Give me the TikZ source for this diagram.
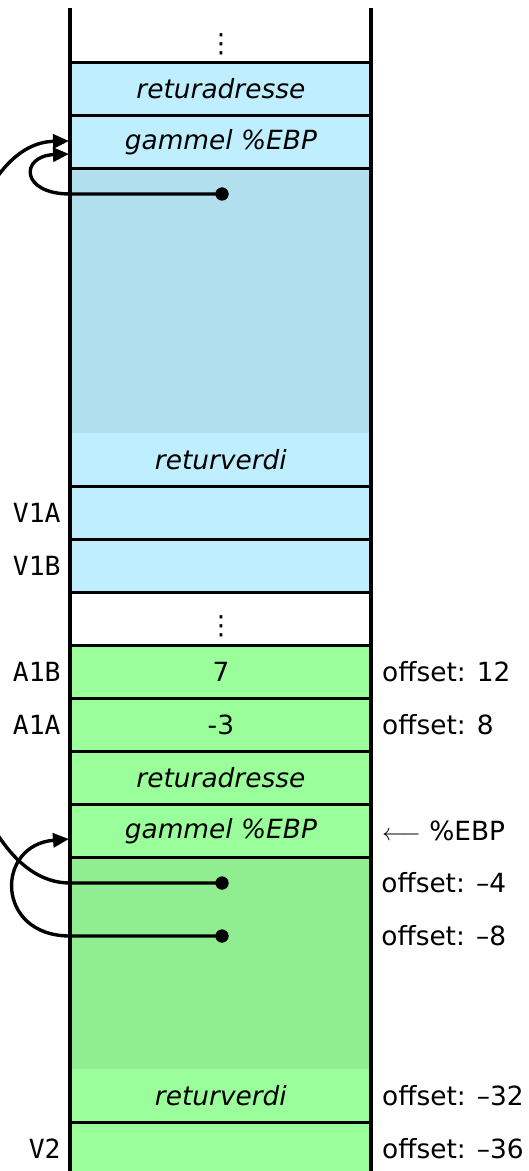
\documentclass[tikz,border=0pt]{standalone}
\usepackage{fontspec}
\setmainfont{DejaVu Sans}
\newfontfamily\labelmono{DejaVu Sans Mono}
\usetikzlibrary{arrows.meta,calc}
\definecolor{cellblue}{RGB}{191,239,255}
\definecolor{areablue}{RGB}{178,223,238}
\definecolor{cellgreen}{RGB}{154,255,154}
\definecolor{areagreen}{RGB}{144,238,144}

\begin{document}
\begin{tikzpicture}[x=0.5pt,y=-0.5pt,
  every node/.style={font=\fontsize{13.2pt}{16pt}\selectfont},
  cell/.style={anchor=north west, inner sep=0pt, minimum width=150.5pt,
               minimum height=26.5pt},
  bluecell/.style={cell, fill=cellblue},
  greencell/.style={cell, fill=cellgreen},
  caption/.style={font=\fontsize{13.2pt}{16pt}\selectfont\itshape},
  leftlabel/.style={anchor=east, inner sep=0pt,
                    font=\fontsize{13.2pt}{16pt}\selectfont\labelmono},
  rightlabel/.style={anchor=west, inner sep=0pt},
  ellipsis/.style={inner sep=0pt},
  sep/.style={line width=1.5pt},
  wall/.style={line width=2pt},
  conn/.style={line width=1.7pt},
  tip/.style={conn, -{Triangle[length=8pt,width=7pt]}},
  ptr/.style={circle, fill=black, inner sep=0pt, minimum size=6.5pt},
]
\useasboundingbox (0,0) rectangle (529,1171);
\clip (0,0) rectangle (529,1171);

% ---- calling frame (blue) ----
\node[cell] (topgap) at (70,8) [minimum height=27pt] {};
\node[ellipsis] at (221,44) {⋮};
\node[bluecell] (retA) at (70,62) {};
\node[caption] at (retA.center) {returadresse};
\node[bluecell] (gamA) at (70,115) {};
\node[caption] at (gamA.center) {gammel \%EBP};
\node[cell, fill=areablue, minimum height=132.5pt] (areaA) at (70,168) {};
\node[bluecell] (rvA) at (70,433) {};
\node[caption] at (rvA.center) {returverdi};
\node[bluecell] (v1a) at (70,486) {};
\node[bluecell] (v1b) at (70,539) {};

% ---- gap ----
\node[cell] (midgap) at (70,592) {};
\node[ellipsis] at (221,626.5) {⋮};

% ---- called frame (green) ----
\node[greencell] (a1b) at (70,645) {7};
\node[greencell] (a1a) at (70,698) {-3};
\node[greencell] (retB) at (70,751) {};
\node[caption] at (retB.center) {returadresse};
\node[greencell] (gamB) at (70,804) {};
\node[caption] at (gamB.center) {gammel \%EBP};
\node[cell, fill=areagreen, minimum height=106pt] (areaB) at (70,857) {};
\node[greencell] (rvB) at (70,1069) {};
\node[caption] at (rvB.center) {returverdi};
\node[greencell] (v2) at (70,1122) {};

% ---- cell separators ----
\foreach \c in {topgap,retA,gamA,rvA,v1a,v1b,midgap,a1b,a1a,retB,gamB,rvB}
  \draw[sep] (\c.south west) -- (\c.south east);

% ---- stack walls ----
\draw[wall] (70,8) -- (70,1180);
\draw[wall] (371,8) -- (371,1180);

% ---- left labels ----
\node[leftlabel] at ($(v1a.west)+(-9,0)$) {V1A};
\node[leftlabel] at ($(v1b.west)+(-9,0)$) {V1B};
\node[leftlabel] at ($(a1b.west)+(-9,0)$) {A1B};
\node[leftlabel] at ($(a1a.west)+(-9,0)$) {A1A};
\node[leftlabel] at ($(v2.west)+(-9,0)$) {V2};

% ---- right labels ----
\node[rightlabel] at ($(a1b.east)+(10,0)$) {offset: 12};
\node[rightlabel] at ($(a1a.east)+(10,0)$) {offset: 8};
\node[rightlabel] at ($(gamB.east)+(10,0)$) {$\longleftarrow$\ \%EBP};
\node[rightlabel] at (381,883) {offset: –4};
\node[rightlabel] at (381,936) {offset: –8};
\node[rightlabel] at ($(rvB.east)+(10,0)$) {offset: –32};
\node[rightlabel] at ($(v2.east)+(10,0)$) {offset: –36};

% ---- saved frame pointers ----
\node[ptr] (pA) at (222,194) {};
\node[ptr] (pB1) at (222,883) {};
\node[ptr] (pB2) at (222,936) {};

\coordinate (bA)  at (70,194);
\coordinate (bB1) at (70,883);
\coordinate (bB2) at (70,936);
\coordinate (tA1) at (69,141);
\coordinate (tA2) at (69,154);
\coordinate (tB)  at (69,839);

\draw[tip] (pA.center) -- (bA) .. controls (20,194) and (20,156) .. (tA2);
\draw[tip] (pB1.center) -- (bB1) .. controls (-113,883) and (-113,145) .. (tA1);
\draw[tip] (pB2.center) -- (bB2) .. controls (-5,936) and (-5,845) .. (tB);

\node[ptr] at (pA) {};
\node[ptr] at (pB1) {};
\node[ptr] at (pB2) {};
\end{tikzpicture}
\end{document}
